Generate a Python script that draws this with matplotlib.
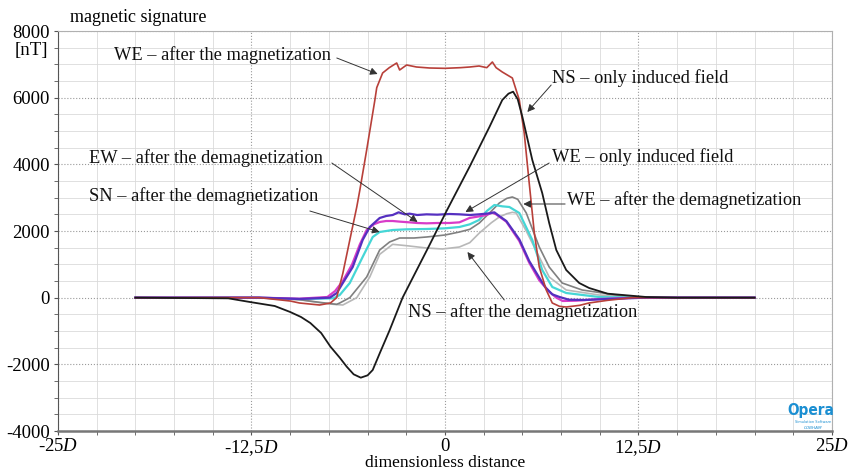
import matplotlib
matplotlib.use('Agg')
import matplotlib.pyplot as plt
from matplotlib.ticker import MultipleLocator

# ============== data ==============
# x in units of D, y in nT
we_mag_x = [-20, -12, -10, -9.4, -8.1, -7.4, -7.0, -6.6, -6.15, -5.7, -5.5, -5.06, -4.54, -4.41,
            -4.03, -3.6, -3.12, -2.93, -2.48, -1.84, -1.0, 0, 1.0, 1.6, 2.2, 2.7, 3.06, 3.3, 3.7,
            4.35, 4.8, 5.12, 5.44, 5.77, 6.09, 6.54, 6.93, 7.4, 7.83, 8.7, 9.3, 10.5, 12.1, 14, 20]
we_mag_y = [0, 0, -100, -160, -220, -160, 0, 730, 1730, 2720, 3230, 4430, 5900, 6300,
            6740, 6900, 7040, 6830, 6980, 6920, 6890, 6880, 6900, 6920, 6950, 6900, 7070, 6900, 6770,
            6590, 5930, 4930, 3440, 1940, 920, 230, -160, -260, -280, -230, -160, -80, 0, 0, 0]

ns_ind_x = [-20, -14, -12.6, -11, -10.0, -9.3, -8.7, -8.0, -7.4, -6.8, -6.35, -5.9, -5.44, -5.0,
            -4.67, -4.2, -3.58, -2.74, -1.0, 0.1, 1.58, 2.87, 3.70, 4.1, 4.4, 4.7, 5.0, 5.64, 6.28,
            6.73, 7.19, 7.83, 8.67, 9.31, 10.5, 12.99, 15, 20]
ns_ind_y = [0, -20, -130, -250, -430, -580, -760, -1060, -1470, -1800, -2070, -2300, -2400, -2330,
            -2170, -1650, -980, 0, 1580, 2600, 3920, 5120, 5930, 6120, 6180, 5950, 5420, 4130, 3140,
            2240, 1430, 830, 440, 290, 120, 20, 0, 0]

purple_x = [-20, -12, -9.4, -7.44, -6.99, -6.6, -5.96, -5.32, -4.86, -4.22, -3.8, -3.38, -3.0, -2.6,
            -2.29, -1.8, -1.19, -0.5, 0.3, 0.93, 1.6, 2.2, 2.87, 3.19, 3.5, 3.96, 4.8, 5.44, 6.09,
            6.5, 6.93, 7.4, 8.0, 9.0, 10.5, 13, 20]
purple_y = [0, 0, -40, 0, 140, 440, 920, 1730, 2120, 2390, 2450, 2480, 2560, 2500,
            2520, 2480, 2500, 2490, 2510, 2500, 2480, 2500, 2530, 2560, 2450, 2300, 1750, 1100, 600,
            300, 100, 20, -60, -70, -40, 0, 0]

magenta_x = [-20, -12, -9.4, -7.6, -7.1, -6.6, -6.0, -5.5, -5.06, -4.6, -4.22, -3.8, -3.38, -2.9,
             -2.3, -1.8, -1.19, -0.5, 0.29, 0.93, 1.58, 2.22, 2.67, 3.06, 3.3, 3.96, 4.8, 5.44, 6.09,
             6.73, 7.19, 7.6, 8.5, 10, 12.5, 20]
magenta_y = [0, 0, -30, 20, 200, 500, 1000, 1600, 2030, 2200, 2270, 2300, 2300, 2280,
             2260, 2240, 2230, 2240, 2240, 2260, 2390, 2440, 2480, 2550, 2500, 2280, 1700, 1050, 520,
             180, 0, -100, -90, -40, 0, 0]

cyan_x = [-20, -12, -9.4, -7.2, -6.8, -6.15, -5.32, -4.67, -4.22, -3.38, -2.5, -1.19, 0, 0.93,
          1.6, 2.2, 2.7, 3.19, 3.7, 4.16, 4.8, 5.64, 6.28, 6.93, 7.83, 9.95, 12.1, 20]
cyan_y = [0, 0, -40, -20, 80, 440, 1220, 1820, 1970, 2030, 2050, 2060, 2080, 2120,
          2200, 2330, 2600, 2780, 2740, 2720, 2540, 1730, 830, 320, 140, 20, 0, 0]

gray_x = [-20, -12, -9.4, -8.1, -7.0, -6.8, -6.15, -5.06, -4.22, -3.58, -2.93, -2.0, -1.19, 0,
          0.93, 1.6, 2.22, 3.0, 3.51, 4.0, 4.35, 4.7, 5.25, 6.09, 6.73, 7.57, 8.86, 11.05, 12.5, 20]
gray_y = [0, 0, -60, -140, -200, -160, 0, 620, 1430, 1670, 1790, 1790, 1820, 1880,
          1970, 2050, 2240, 2600, 2840, 2980, 3020, 2950, 2540, 1520, 920, 440, 230, 80, 20, 0]

lgray_x = [-20, -12, -9.4, -8.1, -7.2, -6.6, -5.7, -4.86, -4.22, -3.38, -2.5, -1.19, -0.16, 0.93,
           1.6, 2.22, 3.0, 3.51, 4.0, 4.35, 4.6, 5.25, 6.09, 6.73, 7.83, 9.95, 12.5, 20]
lgray_y = [0, 0, -60, -150, -200, -220, 0, 620, 1300, 1600, 1560, 1490, 1460, 1520,
           1650, 1940, 2250, 2420, 2520, 2560, 2540, 2000, 1220, 620, 230, 80, 10, 0]

x_tick_vals = [-25, -12.5, 0, 12.5, 25]
x_tick_labels = ['-25$D$', '-12,5$D$', '0', '12,5$D$', '25$D$']
y_tick_vals = [-4000, -2000, 0, 2000, 4000, 6000, 8000]

# annotations: text, text anchor (left x, y), arrow start, arrow tip (data coords)
notes = [
    ('WE \u2013 after the magnetization', (-21.4, 7280), (-6.99, 7190), (-4.35, 6710)),
    ('NS \u2013 only induced field', (6.93, 6590), (6.86, 6380), (5.32, 5570)),
    ('EW \u2013 after the demagnetization', (-23.0, 4190), (-7.31, 4040), (-1.77, 2270)),
    ('WE \u2013 only induced field', (6.93, 4220), (6.73, 4040), (1.32, 2570)),
    ('SN \u2013 after the demagnetization', (-23.0, 3050), (-8.73, 2600), (-4.22, 1970)),
    ('WE \u2013 after the demagnetization', (7.89, 2930), (7.76, 2810), (5.06, 2810)),
    ('NS \u2013 after the demagnetization', (-2.42, -430), (3.83, -70), (1.45, 1370)),
]

# ============== style ==============
plt.rcParams['font.family'] = ['Liberation Serif', 'DejaVu Serif']
plt.rcParams['mathtext.fontset'] = 'custom'
plt.rcParams['mathtext.rm'] = 'Liberation Serif'
plt.rcParams['mathtext.it'] = 'Liberation Serif:italic'
plt.rcParams['axes.unicode_minus'] = False

fig = plt.figure(figsize=(8.54, 4.72), dpi=100)
ax = fig.add_axes([58 / 854, 41 / 472, 774 / 854, 400 / 472])

# grid
ax.xaxis.set_minor_locator(MultipleLocator(2.5))
ax.yaxis.set_minor_locator(MultipleLocator(500))
ax.grid(which='minor', color='#dadada', lw=0.6, linestyle='-')
ax.grid(which='major', color='#9a9a9a', lw=0.8, linestyle=':')
ax.set_axisbelow(True)

# curves
ax.plot(lgray_x, lgray_y, color='#b8b8b8', lw=1.2)
ax.plot(gray_x, gray_y, color='#808080', lw=1.2)
ax.plot(cyan_x, cyan_y, color='#45d6d6', lw=1.6)
ax.plot(magenta_x, magenta_y, color='#d83cc8', lw=1.6)
ax.plot(purple_x, purple_y, color='#5530c0', lw=1.6)
ax.plot(we_mag_x, we_mag_y, color='#b8403a', lw=1.2)
ax.plot(ns_ind_x, ns_ind_y, color='#1a1a1a', lw=1.3)

# annotations
for txt, tpos, a0, a1 in notes:
    ax.text(tpos[0], tpos[1], txt, ha='left', va='center', fontsize=13.2, color='#111111')
    ax.annotate('', xy=a1, xytext=a0,
                arrowprops=dict(arrowstyle='-|>', color='#333333', lw=0.7,
                                mutation_scale=11, shrinkA=0, shrinkB=0))

# axes
ax.set_xlim(-25, 25)
ax.set_ylim(-4000, 8000)
ax.set_xticks(x_tick_vals)
ax.set_xticklabels(x_tick_labels, fontsize=13.5)
ax.set_yticks(y_tick_vals)
ax.set_yticklabels([str(v) for v in y_tick_vals], fontsize=13.5)
ax.tick_params(which='both', direction='out', length=3, color='#555555')
ax.tick_params(axis='x', pad=2)
ax.tick_params(axis='y', pad=3)

for s in ['top', 'right']:
    ax.spines[s].set_color('#b0b0b0')
    ax.spines[s].set_linewidth(0.8)
ax.spines['left'].set_color('#555555')
ax.spines['bottom'].set_color('#777777')
ax.spines['bottom'].set_linewidth(1.8)

ax.set_xlabel('dimensionless distance', fontsize=12.5, labelpad=-2)

fig.text(70 / 854, 1 - 18 / 472, 'magnetic signature', fontsize=13, ha='left', va='center')
fig.text(15 / 854, 1 - 50 / 472, '[nT]', fontsize=13.5, ha='left', va='center')

# Opera logo
fig.text(811 / 854, 1 - 411 / 472, 'Opera', fontsize=11, fontweight='bold', color='#1b8fd2',
         family='DejaVu Sans', ha='center', va='center', stretch='condensed')
fig.text(813 / 854, 1 - 422 / 472, 'Simulation Software', fontsize=2.5, color='#1b8fd2',
         family='DejaVu Sans', ha='center', va='center')
fig.text(813 / 854, 1 - 428 / 472, 'COBHAM', fontsize=3, color='#1b8fd2', style='italic',
         family='DejaVu Sans', ha='center', va='center')

plt.savefig('out.png', dpi=100)
